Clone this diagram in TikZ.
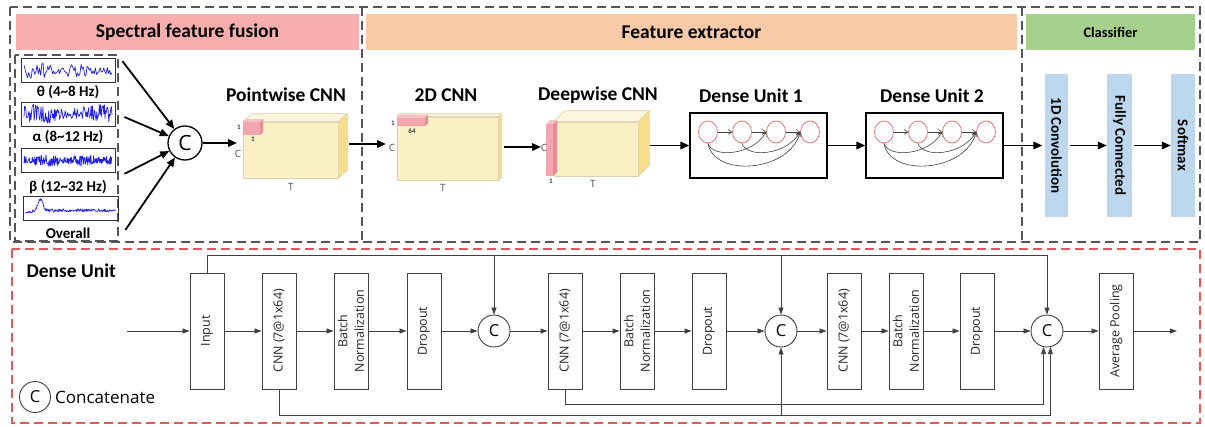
\documentclass[tikz,border=0pt]{standalone}
\usepackage{fontspec}
\setmainfont{Carlito}
\newfontfamily\segfont{Open Sans}
\usetikzlibrary{arrows.meta,calc,shapes.geometric}

\definecolor{framegray}{HTML}{555555}
\definecolor{framered}{HTML}{E05A5A}
\definecolor{hdrpink}{HTML}{F9AEAE}
\definecolor{hdrpeach}{HTML}{F8CAA8}
\definecolor{hdrgreen}{HTML}{A8D08D}
\definecolor{barblue}{HTML}{BDD7EE}
\definecolor{cubefr}{HTML}{FBF0C6}
\definecolor{cubetp}{HTML}{FDF6DF}
\definecolor{cubesd}{HTML}{F8DD8C}
\definecolor{cubeedge}{HTML}{DCD2AC}
\definecolor{kpink}{HTML}{F4A6AE}
\definecolor{kpinkdk}{HTML}{E98C97}
\definecolor{wave}{HTML}{2020E0}
\definecolor{durred}{HTML}{E06666}
\definecolor{linegray}{HTML}{404040}

\tikzset{
  gframe/.style={draw=framegray, line width=1.1pt, dash pattern=on 9pt off 5pt},
  rframe/.style={draw=framered, line width=1.1pt, dash pattern=on 9pt off 5pt},
  hdr/.style={rectangle, inner sep=0pt, minimum height=36pt, font=\fontsize{19.5}{22}\selectfont\bfseries},
  ttl/.style={font=\fontsize{19.5}{22}\selectfont\bfseries},
  sigbox/.style={rectangle, draw=black!80, line width=0.8pt, minimum width=94pt, minimum height=24pt, inner sep=0pt},
  siglbl/.style={font=\fontsize{15}{17}\selectfont\bfseries},
  wavepen/.style={draw=wave, line width=0.7pt, line join=round},
  ccirc/.style={circle, draw=black, line width=1.3pt, minimum size=34pt, inner sep=0pt, font=\segfont\fontsize{21}{22}\selectfont},
  tarr/.style={line width=1.8pt, -{Triangle[length=9pt,width=7.5pt]}},
  cubefront/.style={rectangle, fill=cubefr, draw=cubeedge, line width=0.6pt, inner sep=0pt},
  cubeface/.style={draw=cubeedge, line width=0.6pt, line join=round},
  dimlbl/.style={font=\fontsize{7}{8}\selectfont\bfseries, text=black!75, inner sep=0pt},
  axlbl/.style={font=\segfont\fontsize{10}{11}\selectfont, text=black!70, inner sep=0pt},
  dubox/.style={rectangle, draw=black, line width=1.3pt, minimum width=137pt, minimum height=65pt, inner sep=0pt},
  dunode/.style={ellipse, draw=durred, line width=0.7pt, minimum width=19pt, minimum height=22pt, inner sep=0pt},
  duarr/.style={draw=black!75, line width=0.6pt, -{Straight Barb[length=3.5pt,width=5pt]}},
  clsbar/.style={rectangle, fill=barblue, inner sep=0pt, minimum width=143pt, rotate=-90, font=\fontsize{15}{17}\selectfont\bfseries},
  blk/.style={rectangle, draw=linegray, line width=0.9pt, fill=white, minimum width=116pt, minimum height=34pt, inner sep=0pt, rotate=90, align=center, font=\segfont\fontsize{12.5}{16.5}\selectfont, text=black!85},
  bcirc/.style={circle, draw=linegray, line width=0.9pt, minimum size=32pt, inner sep=0pt, font=\segfont\fontsize{16.5}{18}\selectfont},
  barr/.style={draw=linegray, line width=0.8pt, -{Triangle[length=7pt,width=5pt]}},
}

\begin{document}
\begin{tikzpicture}[x=1pt,y=-1pt]
\useasboundingbox (0,0) rectangle (1205,426);
\fill[white] (0,0) rectangle (1205,426);

% ---------- section frames ----------
\draw[gframe] (10,7) rectangle (1200,242);
\draw[gframe] (362,7) -- (362,242);
\draw[gframe] (1022,7) -- (1022,242);
\draw[gframe] (15,55) rectangle (118,241);
\draw[rframe] (12,249) rectangle (1200,423);

% ---------- headers ----------
\node[hdr, fill=hdrpink, minimum width=343pt] (hsf) at (187.5,32) {Spectral feature fusion};
\node[hdr, fill=hdrpeach, minimum width=651pt] (hfe) at (691.5,32) {Feature extractor};
\node[hdr, fill=hdrgreen, minimum width=169pt, font=\fontsize{14.5}{16}\selectfont\bfseries] (hcl) at (1110.5,32) {Classifier};

% ---------- band signals ----------
\node[sigbox] (s1) at (68,70.5) {};
\node[sigbox] (s2) at (68,114) {};
\node[sigbox] (s3) at (68,160.5) {};
\node[sigbox, minimum width=95pt] (s4) at (70.5,208.5) {};
\pgfmathsetseed{21}
\draw[wavepen] plot[domain=-44:44, samples=75] ({68+\x},{70.5+(2.5+6*abs(sin(4*\x+40)))*rand});
\draw[wavepen] plot[domain=-44:44, samples=140] ({68+\x},{114+(3.5+6.5*abs(sin(3*\x)))*rand});
\draw[wavepen] plot[domain=-44:44, samples=230] ({68+\x},{160.5+(3+3*abs(sin(5*\x+10)))*rand});
\draw[wavepen] plot[domain=-45:45, samples=150] ({70.5+\x},{210.5+1.6*rand+0.35*max(0,-36-\x)-11*exp(max(-20,-(\x+30)*(\x+30)/12))});
\node[siglbl] (l1) at (68,92) {θ (4\textasciitilde 8 Hz)};
\node[siglbl] (l2) at (68,137) {α (8\textasciitilde 12 Hz)};
\node[siglbl] (l3) at (68,187) {β (12\textasciitilde 32 Hz)};
\node[siglbl] (l4) at (68,233) {Overall};

% ---------- concatenation of bands ----------
\node[ccirc] (cc) at (185,143) {C};
\draw[tarr] ($(s1.north east)+(7,3)$) -- (cc);
\draw[tarr] ($(s2.east)+(9,3)$) -- (cc);
\draw[tarr] ($(s3.south east)+(9,1)$) -- (cc);
\draw[tarr] ($(s4.south east)+(7,9)$) -- (cc);
\coordinate (pwin) at (237,143);
\draw[tarr] (cc) -- (pwin);

% ---------- pointwise CNN block ----------
\node[ttl] (tpw) at (286,95) {Pointwise CNN};
\node[cubefront, minimum width=95pt, minimum height=56pt] (pw) at (290.5,150) {};
\filldraw[cubeface, fill=cubetp] (pw.north west) -- ++(9,-8) -- ($(pw.north east)+(9,-8)$) -- (pw.north east) -- cycle;
\filldraw[cubeface, fill=cubesd] (pw.north east) -- ++(9,-8) -- ($(pw.south east)+(9,-8)$) -- (pw.south east) -- cycle;
\fill[kpink] (243,122) rectangle (260,135);
\fill[kpinkdk] (260,122) -- (263,119) -- (263,132) -- (260,135) -- cycle;
\fill[kpink!70] (243,122) -- (246,119) -- (263,119) -- (260,122) -- cycle;
\node[dimlbl] at (239,127) {1};
\node[dimlbl] at (253,139) {1};
\node[axlbl] at (238,154) {C};
\node[axlbl] at (291,187) {T};

\coordinate (pwout) at (349,144);
\coordinate (cdin) at (386,144);
\draw[tarr] (pwout) -- (cdin);

% ---------- 2D CNN block ----------
\node[ttl] (tcd) at (446,95) {2D CNN};
\node[cubefront, minimum width=101pt, minimum height=63pt] (cd) at (447.5,148.5) {};
\filldraw[cubeface, fill=cubetp] (cd.north west) -- ++(3,-3) -- ($(cd.north east)+(3,-3)$) -- (cd.north east) -- cycle;
\filldraw[cubeface, fill=cubesd] (cd.north east) -- ++(3,-3) -- ($(cd.south east)+(3,-3)$) -- (cd.south east) -- cycle;
\fill[kpink] (397,117.5) rectangle (425,126);
\fill[kpinkdk] (425,117.5) -- (428,114.5) -- (428,123) -- (425,126) -- cycle;
\fill[kpink!70] (397,117.5) -- (400,114.5) -- (428,114.5) -- (425,117.5) -- cycle;
\node[dimlbl] at (393,123) {1};
\node[dimlbl] at (412,131) {64};
\node[axlbl] at (392,148) {C};
\node[axlbl] at (443,188) {T};

\coordinate (cdout) at (504,147);
\coordinate (dwin) at (541,147);
\draw[tarr] (cdout) -- (dwin);

% ---------- depthwise CNN block ----------
\node[ttl] (tdw) at (598,95) {Deepwise CNN};
\node[cubefront, minimum width=84pt, minimum height=54pt] (dw) at (596,149) {};
\filldraw[cubeface, fill=cubetp] (dw.north west) -- ++(11,-11) -- ($(dw.north east)+(11,-11)$) -- (dw.north east) -- cycle;
\filldraw[cubeface, fill=cubesd] (dw.north east) -- ++(11,-11) -- ($(dw.south east)+(11,-11)$) -- (dw.south east) -- cycle;
\fill[kpink] (546,124) rectangle (553,176);
\fill[kpinkdk] (553,124) -- (557,120) -- (557,172) -- (553,176) -- cycle;
\fill[kpink!70] (546,124) -- (550,120) -- (557,120) -- (553,124) -- cycle;
\node[dimlbl] at (551,181) {1};
\node[axlbl] at (544,148) {C};
\node[axlbl] at (593,184) {T};

\coordinate (dwout) at (650,145.5);

% ---------- dense units (overview) ----------
\node[ttl] (td1) at (751,96) {Dense Unit 1};
\node[dubox] (du1) at (758.5,145.5) {};
\node[dunode] (a1) at (708,132) {};
\node[dunode] (a2) at (742,132) {};
\node[dunode] (a3) at (776,132) {};
\node[dunode] (a4) at (810,132) {};
\draw[duarr] (a1) -- (a2);
\draw[duarr] (a2) -- (a3);
\draw[duarr] (a3) -- (a4);
\draw[duarr] (a1.south) .. controls (712,158) and (752,156) .. (a3.west);
\draw[duarr] (a2.south) .. controls (746,158) and (786,156) .. (a4.west);
\draw[duarr] (a1.south) .. controls (714,178) and (790,172) .. (a4.west);

\node[ttl] (td2) at (932,96) {Dense Unit 2};
\node[dubox] (du2) at (934.5,145.5) {};
\node[dunode] (b1) at (884,132) {};
\node[dunode] (b2) at (918,132) {};
\node[dunode] (b3) at (952,132) {};
\node[dunode] (b4) at (986,132) {};
\draw[duarr] (b1) -- (b2);
\draw[duarr] (b2) -- (b3);
\draw[duarr] (b3) -- (b4);
\draw[duarr] (b1.south) .. controls (888,158) and (928,156) .. (b3.west);
\draw[duarr] (b2.south) .. controls (922,158) and (962,156) .. (b4.west);
\draw[duarr] (b1.south) .. controls (890,178) and (966,172) .. (b4.west);

\draw[tarr] (dwout) -- (du1.west);
\draw[tarr] (du1.east) -- (du2.west);

% ---------- classifier ----------
\node[clsbar, minimum height=23pt] (conv) at (1056.5,145.5) {1D Convolution};
\node[clsbar, minimum height=25pt] (fc) at (1119.5,145.5) {Fully Connected};
\node[clsbar, minimum height=24pt] (sm) at (1183,145.5) {Softmax};
\draw[tarr, shorten >=2.5pt] (du2.east) -- (conv.south);
\draw[tarr, shorten <=2pt] (conv.north) -- (fc.south);
\draw[tarr, shorten <=2pt] (fc.north) -- (sm.south);

% ---------- dense unit detail ----------
\node[ttl, anchor=west] (dutitle) at (23,271) {Dense Unit};
\node[bcirc, minimum size=31pt] (lc) at (35,397) {C};
\node[anchor=west, inner sep=0pt, font=\segfont\fontsize{17}{19}\selectfont] (lctext) at (55,397) {Concatenate};

\coordinate (din) at (127,331);
\node[blk] (inp) at (207,331) {Input};
\node[blk] (cn1) at (279,331) {CNN (7@1x64)};
\node[blk] (bn1) at (351,331) {Batch\\Normalization};
\node[blk] (do1) at (424,331) {Dropout};
\node[bcirc] (k1) at (494,331) {C};
\node[blk] (cn2) at (565,331) {CNN (7@1x64)};
\node[blk] (bn2) at (637,331) {Batch\\Normalization};
\node[blk] (do2) at (709,331) {Dropout};
\node[bcirc] (k2) at (781,331) {C};
\node[blk] (cn3) at (844,331) {CNN (7@1x64)};
\node[blk] (bn3) at (906,331) {Batch\\Normalization};
\node[blk] (do3) at (977,331) {Dropout};
\node[bcirc] (k3) at (1047,331) {C};
\node[blk] (avp) at (1116,331) {Average Pooling};
\coordinate (dout) at (1177,331);

\draw[barr] (din) -- (inp.north);
\draw[barr] (inp.south) -- (cn1.north);
\draw[barr] (cn1.south) -- (bn1.north);
\draw[barr] (bn1.south) -- (do1.north);
\draw[barr] (do1.south) -- (k1.west);
\draw[barr] (k1.east) -- (cn2.north);
\draw[barr] (cn2.south) -- (bn2.north);
\draw[barr] (bn2.south) -- (do2.north);
\draw[barr] (do2.south) -- (k2.west);
\draw[barr] (k2.east) -- (cn3.north);
\draw[barr] (cn3.south) -- (bn3.north);
\draw[barr] (bn3.south) -- (do3.north);
\draw[barr] (do3.south) -- (k3.west);
\draw[barr] (k3.east) -- (avp.north);
\draw[barr] (avp.south) -- (dout);

% skip connections
\coordinate (skiptop) at (0,255);
\coordinate (skipa) at (0,415);
\coordinate (skipb) at (0,404);
\draw[barr] (inp.east) |- (skiptop -| k3) -- (k3.north);
\draw[barr] (skiptop -| k1) -- (k1.north);
\draw[barr] (skiptop -| k2) -- (k2.north);
\draw[barr] (cn2.west) |- (skipb -| k3.-102) -- (k3.-102);
\draw[barr] (cn1.west) |- (skipa -| k3.-78) -- (k3.-78);
\draw[barr] (skipa -| k2) -- (k2.south);
\end{tikzpicture}
\end{document}
